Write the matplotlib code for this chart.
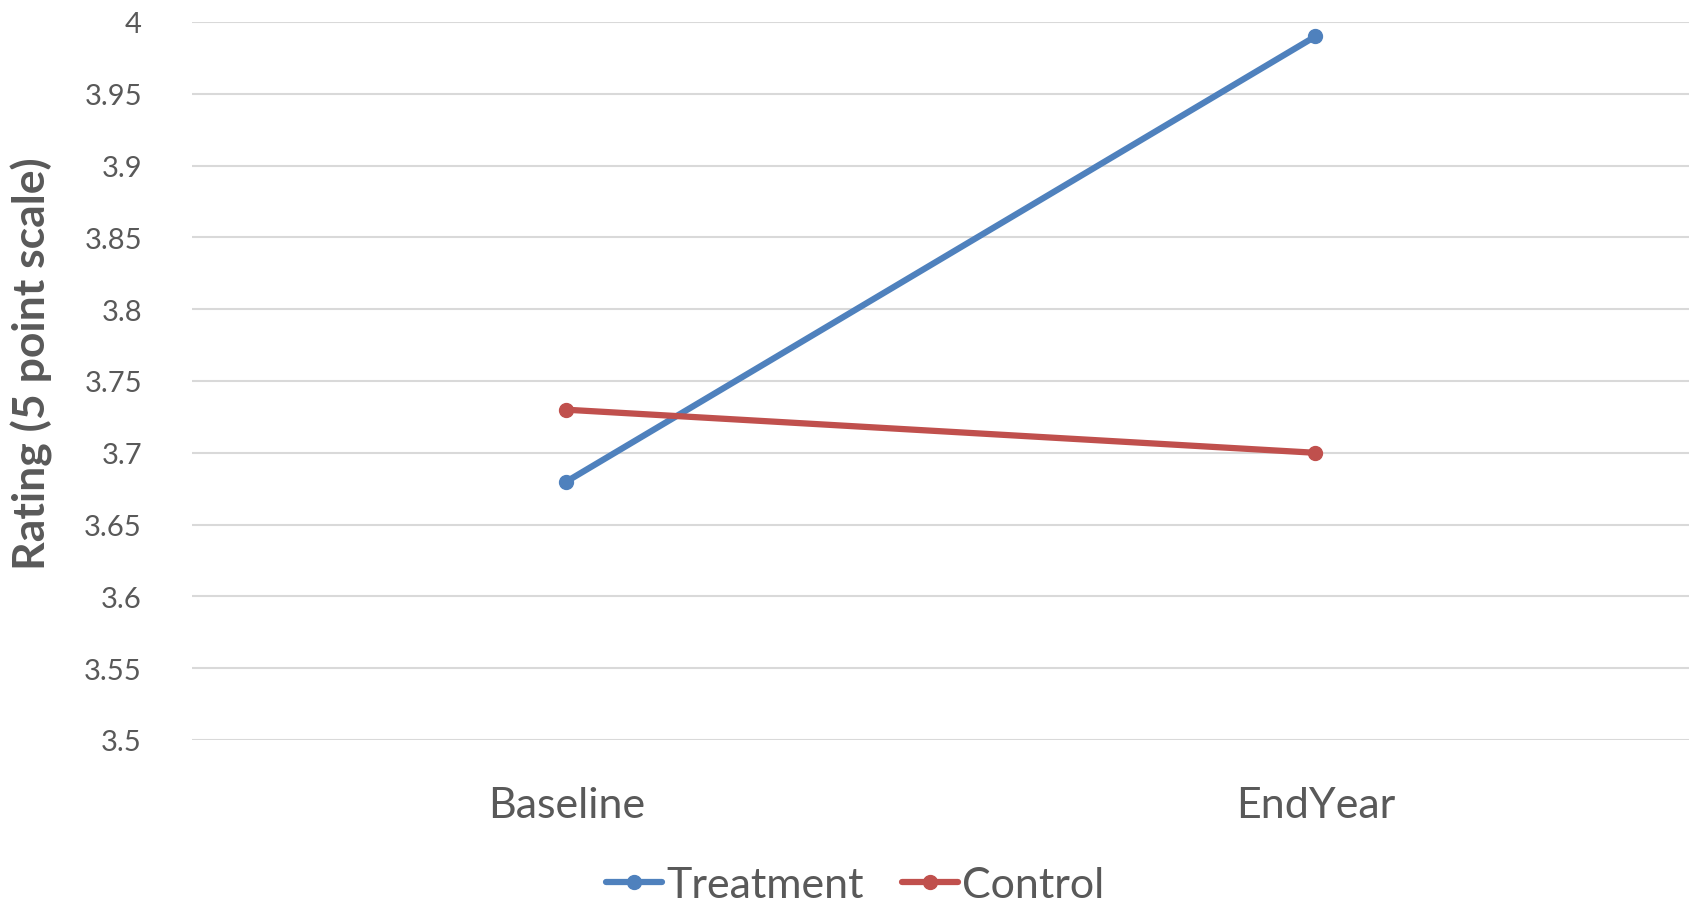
import matplotlib
matplotlib.use("Agg")
import matplotlib.pyplot as plt

categories = ["Baseline", "EndYear"]
treatment = [3.68, 3.99]
control = [3.73, 3.70]
yticks = [3.5, 3.55, 3.6, 3.65, 3.7, 3.75, 3.8, 3.85, 3.9, 3.95, 4.0]
ytick_labels = ["3.5", "3.55", "3.6", "3.65", "3.7", "3.75", "3.8", "3.85", "3.9", "3.95", "4"]

plt.rcParams['font.family'] = ['Lato', 'DejaVu Sans']
txt = "#595959"

fig = plt.figure(figsize=(16.9, 9.04), dpi=100)
ax = fig.add_axes([192/1690, 1-741/904, 1-192/1690, (741-23)/904])

x = [0.5, 1.5]
ax.plot(x, treatment, color="#4F81BD", lw=4.5, marker="o", ms=10, label="Treatment", solid_capstyle="round")
ax.plot(x, control, color="#C0504D", lw=4.5, marker="o", ms=10, label="Control", solid_capstyle="round")

ax.set_xlim(0, 2)
ax.set_ylim(3.5, 4.0)
ax.set_yticks(yticks)
ax.set_yticklabels(ytick_labels)
ax.set_xticks(x)
ax.set_xticklabels(categories)
ax.grid(axis="y", color="#D9D9D9", lw=1.5)
ax.set_axisbelow(True)
for s in ax.spines.values():
    s.set_visible(False)
ax.tick_params(axis="both", length=0, colors=txt)
ax.tick_params(axis="y", labelsize=21, pad=36)
ax.tick_params(axis="x", labelsize=31, pad=33)

fig.text(32/1690, 1-364/904, "Rating (5 point scale)", rotation=90, ha="center", va="center",
         fontsize=32, fontweight="bold", color=txt)

leg = fig.legend(loc="center", bbox_to_anchor=(0.506, 1-886/904), ncol=2, frameon=False,
                 fontsize=31, handlelength=1.3, handletextpad=0.1, columnspacing=0.9)
for t in leg.get_texts():
    t.set_color(txt)

fig.savefig("out.png", dpi=100)
